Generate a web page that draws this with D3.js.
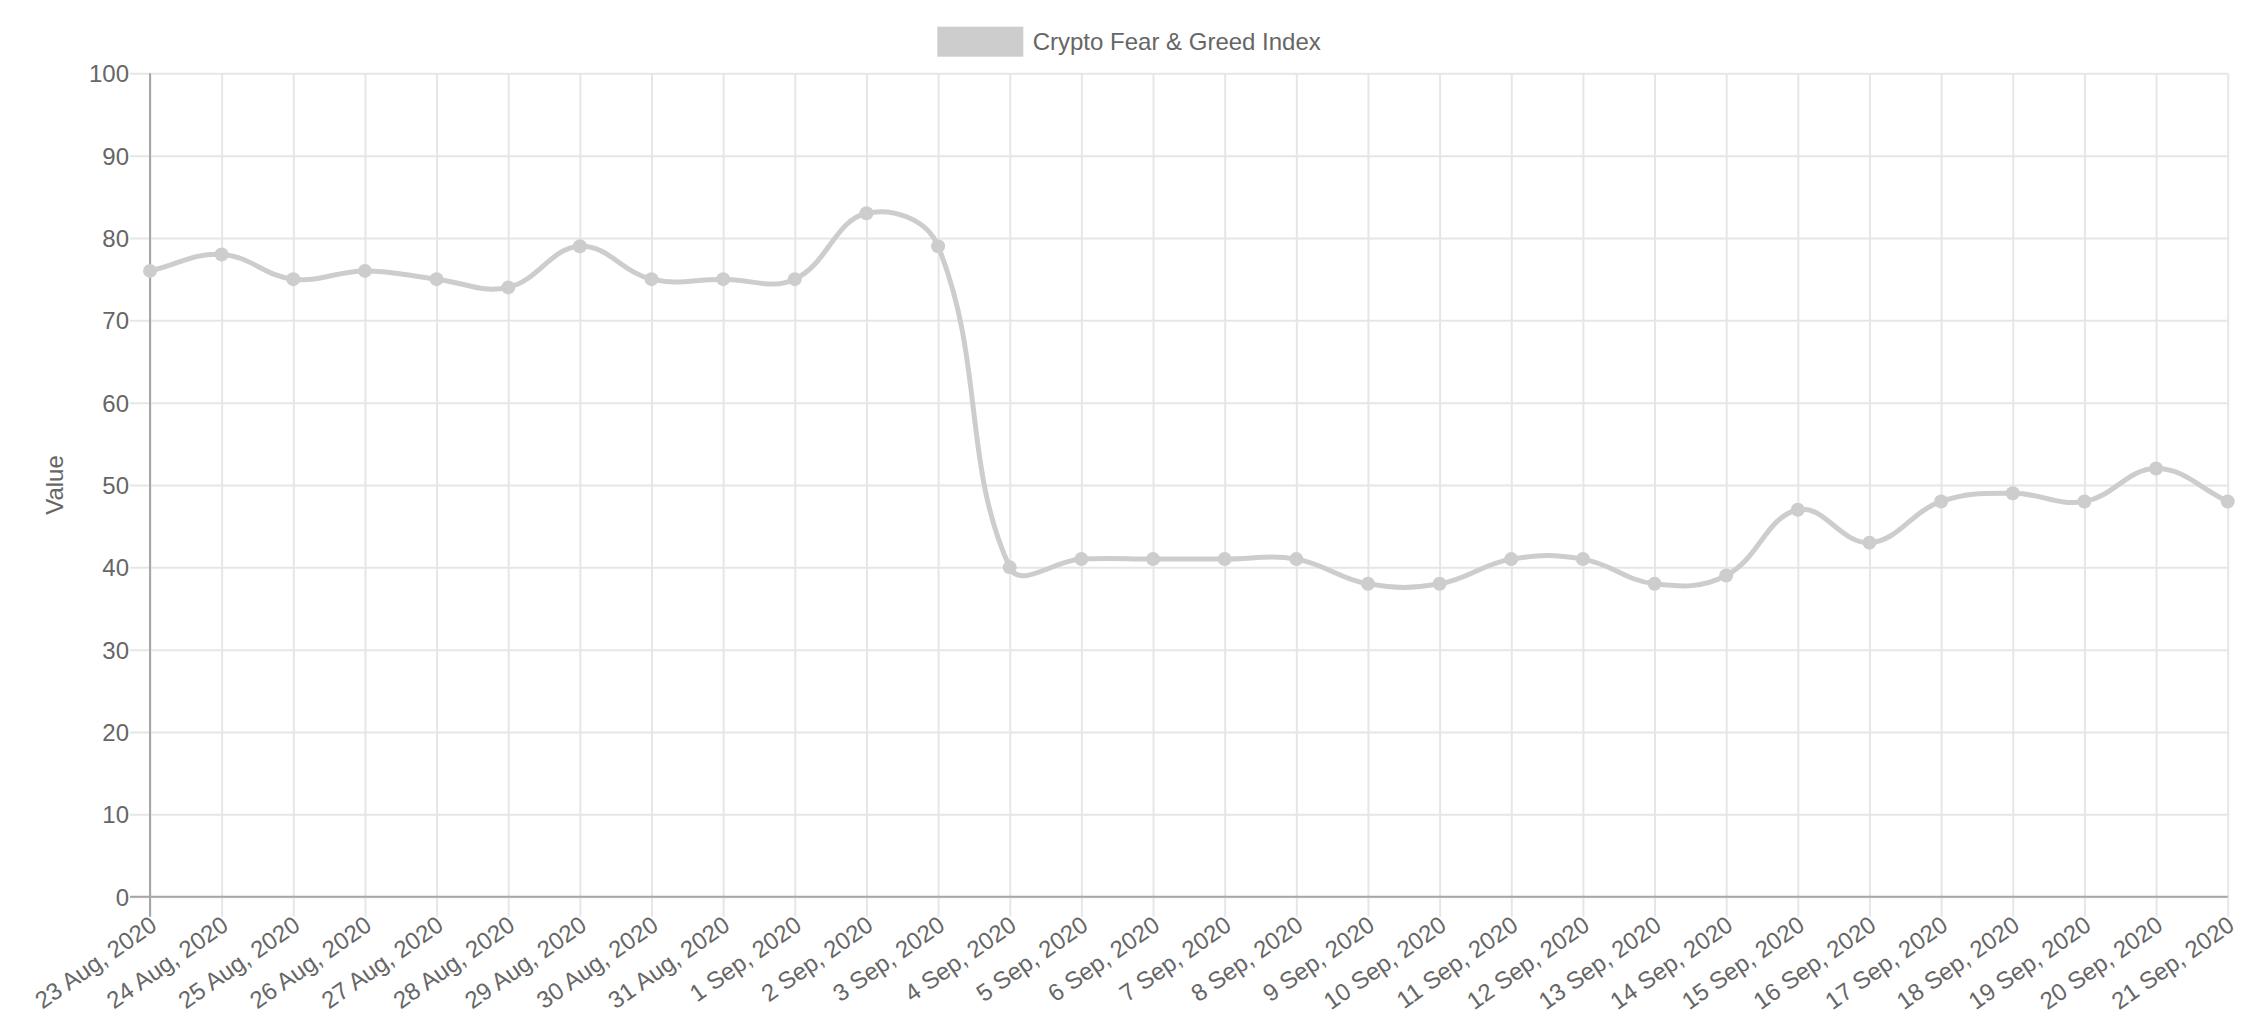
<!DOCTYPE html>
<html>
<head>
<meta charset="utf-8">
<script src="https://cdn.jsdelivr.net/npm/d3@7"></script>
<style>
  body { margin: 0; background: #fff; }
  text { font-family: "Liberation Sans", Arial, Helvetica, sans-serif; fill: #666; }
</style>
</head>
<body>
<script>
// data
const dates = [
  "23 Aug, 2020", "24 Aug, 2020", "25 Aug, 2020", "26 Aug, 2020", "27 Aug, 2020",
  "28 Aug, 2020", "29 Aug, 2020", "30 Aug, 2020", "31 Aug, 2020", "1 Sep, 2020",
  "2 Sep, 2020", "3 Sep, 2020", "4 Sep, 2020", "5 Sep, 2020", "6 Sep, 2020",
  "7 Sep, 2020", "8 Sep, 2020", "9 Sep, 2020", "10 Sep, 2020", "11 Sep, 2020",
  "12 Sep, 2020", "13 Sep, 2020", "14 Sep, 2020", "15 Sep, 2020", "16 Sep, 2020",
  "17 Sep, 2020", "18 Sep, 2020", "19 Sep, 2020", "20 Sep, 2020", "21 Sep, 2020"
];
const values = [
  76, 78, 75, 76, 75, 74, 79, 75, 75, 75,
  83, 79, 40, 41, 41, 41, 41, 38, 38, 41,
  41, 38, 39, 47, 43, 48, 49, 48, 52, 48
];
const yTicks = [0, 10, 20, 30, 40, 50, 60, 70, 80, 90, 100];
const seriesName = "Crypto Fear & Greed Index";
const yTitle = "Value";

let margin = null,
    width = null,
    height = null;
let svg = null;
let x, y = null;

const lineColor = "#cdcdcd";
const gridColor = "#e6e6e6";
const zeroColor = "#a6a6a6";
const fontSize = 24;

setupCanvasSize();
appendSvg("body");
setupXScale();
setupYScale();
appendGrid();
appendZeroLines();
appendLine();
appendLegend();
appendYTitle();

function setupCanvasSize() {
  margin = {top: 73.3, left: 150, bottom: 135.3, right: 34.3};
  width = 2262 - margin.left - margin.right;
  height = 1032 - margin.top - margin.bottom;
}

function appendSvg(domElement) {
  svg = d3.select(domElement).append("svg")
    .attr("width", 2262)
    .attr("height", 1032)
    .append("g")
    .attr("transform", `translate(${margin.left}, ${margin.top})`);
}

function setupXScale() {
  x = d3.scalePoint().domain(dates).range([0, width]);
}

function setupYScale() {
  y = d3.scaleLinear().domain([0, 100]).range([height, 0]);
}

function appendGrid() {
  // horizontal grid + y labels (axis sits on the right edge so ticks span the plot)
  const gy = svg.append("g")
    .attr("transform", `translate(${width},0)`)
    .call(d3.axisLeft(y).tickValues(yTicks).tickSize(width + 20).tickPadding(1));
  gy.select(".domain").remove();
  gy.selectAll("line").attr("stroke", gridColor).attr("stroke-width", 2);
  gy.selectAll("text")
    .attr("dy", "0.35em")
    .style("font-size", fontSize + "px")
    .attr("fill", "#666");

  // vertical grid + rotated date labels
  const gx = svg.append("g")
    .call(d3.axisBottom(x).tickSize(height + 20));
  gx.select(".domain").remove();
  gx.selectAll("line").attr("stroke", gridColor).attr("stroke-width", 2);
  gx.selectAll("text")
    .attr("x", 0)
    .attr("y", 0)
    .attr("dy", "0.35em")
    .attr("transform", `translate(3, ${height + 25}) rotate(-35)`)
    .style("text-anchor", "end")
    .style("font-size", fontSize + "px")
    .attr("fill", "#666");
}

function appendZeroLines() {
  svg.append("line")
    .attr("x1", x(dates[0])).attr("x2", x(dates[0]))
    .attr("y1", 0).attr("y2", height + 20)
    .attr("stroke", zeroColor).attr("stroke-width", 2);
  svg.append("line")
    .attr("x1", -20).attr("x2", width)
    .attr("y1", y(0)).attr("y2", y(0))
    .attr("stroke", zeroColor).attr("stroke-width", 2);
}

// bezier smoothing like the original chart (tension 0.4, distance weighted)
function splineCurve(context) {
  let pts = [];
  return {
    areaStart() {}, areaEnd() {},
    lineStart() { pts = []; },
    point(px, py) { pts.push([px, py]); },
    lineEnd() {
      const t = 0.4;
      const cps = pts.map((p, i) => {
        const prev = pts[i - 1] || p, next = pts[i + 1] || p;
        const d01 = Math.hypot(p[0] - prev[0], p[1] - prev[1]);
        const d12 = Math.hypot(next[0] - p[0], next[1] - p[1]);
        let s01 = d01 / (d01 + d12), s12 = d12 / (d01 + d12);
        if (isNaN(s01)) s01 = 0;
        if (isNaN(s12)) s12 = 0;
        const fa = t * s01, fb = t * s12;
        return {
          prev: [p[0] - fa * (next[0] - prev[0]), Math.min(height, Math.max(0, p[1] - fa * (next[1] - prev[1])))],
          next: [p[0] + fb * (next[0] - prev[0]), Math.min(height, Math.max(0, p[1] + fb * (next[1] - prev[1])))]
        };
      });
      pts.forEach((p, i) => {
        if (i === 0) { context.moveTo(p[0], p[1]); return; }
        const a = cps[i - 1].next, b = cps[i].prev;
        context.bezierCurveTo(a[0], a[1], b[0], b[1], p[0], p[1]);
      });
    }
  };
}

function appendLine() {
  const line = d3.line()
    .x((d, i) => x(dates[i]))
    .y((d) => y(d))
    .curve(splineCurve);

  svg.append("path")
    .datum(values)
    .attr("d", line)
    .attr("fill", "none")
    .attr("stroke", lineColor)
    .attr("stroke-width", 5);

  svg.selectAll("circle")
    .data(values)
    .enter()
    .append("circle")
    .attr("cx", (d, i) => x(dates[i]))
    .attr("cy", (d) => y(d))
    .attr("r", 7)
    .attr("fill", lineColor);
}

function appendLegend() {
  const lg = d3.select("svg").append("g");
  lg.append("rect")
    .attr("x", 937.3).attr("y", 26.7)
    .attr("width", 86).attr("height", 30)
    .attr("fill", lineColor);
  lg.append("text")
    .attr("x", 1032.7).attr("y", 41.7)
    .attr("dy", "0.35em")
    .style("font-size", fontSize + "px")
    .text(seriesName);
}

function appendYTitle() {
  d3.select("svg").append("text")
    .attr("transform", `translate(63, ${margin.top + height / 2}) rotate(-90)`)
    .style("text-anchor", "middle")
    .style("font-size", fontSize + "px")
    .text(yTitle);
}
</script>
</body>
</html>
